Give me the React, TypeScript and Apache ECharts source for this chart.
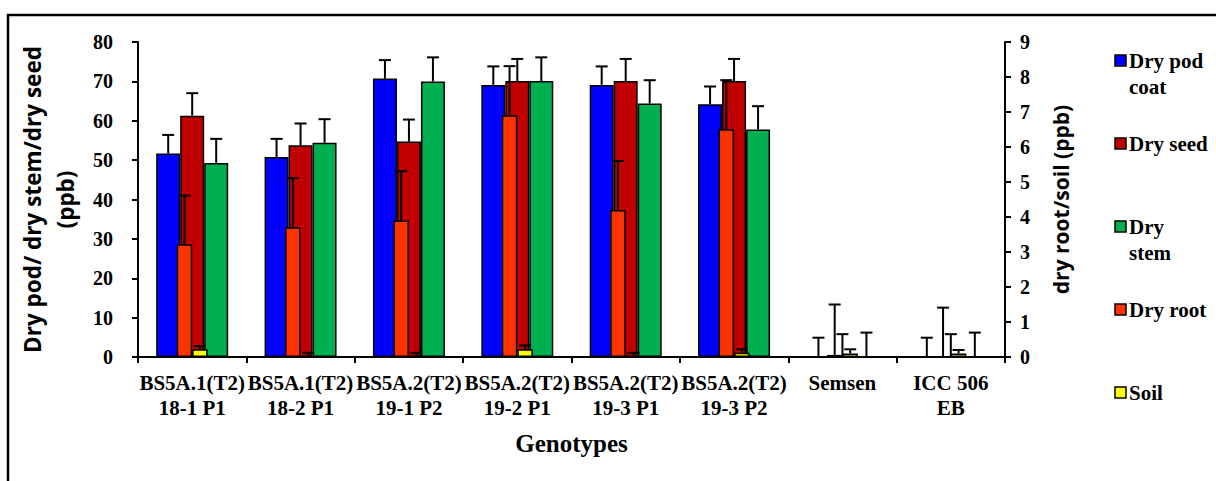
import React, { useEffect, useRef } from 'react';
import * as echarts from 'echarts';

const categories = [
  'BS5A.1(T2)\n18-1 P1',
  'BS5A.1(T2)\n18-2 P1',
  'BS5A.2(T2)\n19-1 P2',
  'BS5A.2(T2)\n19-2 P1',
  'BS5A.2(T2)\n19-3 P1',
  'BS5A.2(T2)\n19-3 P2',
  'Semsen',
  'ICC 506\nEB',
];

const seriesNames = ['Dry pod coat', 'Dry seed', 'Dry stem', 'Dry root', 'Soil'];
const legendLabels = ['Dry pod\ncoat', 'Dry seed', 'Dry\nstem', 'Dry root', 'Soil'];
const colors = ['#0000FF', '#C00000', '#00B050', '#FF3300', '#FFFF00'];

// left axis (ppb)
const podCoat = [51.7, 50.8, 70.7, 69.1, 69.1, 64.2, 0, 0];
const podCoatErr = [4.7, 4.6, 4.7, 4.7, 4.7, 4.5, 4.9, 4.9];
const seed = [61.3, 53.8, 54.7, 70.1, 70.1, 70.1, 0, 0];
const seedErr = [5.7, 5.5, 5.6, 5.6, 5.6, 5.6, 5.8, 5.8];
const stem = [49.3, 54.4, 70.0, 70.1, 64.4, 57.8, 0, 0];
const stemErr = [6.1, 6.0, 6.1, 6.0, 5.9, 5.9, 6.2, 6.2];
// right axis (ppb)
const root = [3.22, 3.71, 3.9, 6.91, 4.2, 6.51, 0.06, 0.02];
const rootErr = [1.39, 1.4, 1.41, 1.4, 1.4, 1.4, 1.44, 1.39];
const soil = [0.22, 0.02, 0.02, 0.22, 0.02, 0.12, 0.1, 0.1];
const soilErr = [0.09, 0.1, 0.1, 0.11, 0.1, 0.1, 0.12, 0.1];

const leftTicks = [0, 10, 20, 30, 40, 50, 60, 70, 80];
const rightTicks = [0, 1, 2, 3, 4, 5, 6, 7, 8, 9];

const SERIF = '"Liberation Serif", "Times New Roman", serif';
const SANS = '"Open Sans", "Noto Sans", sans-serif';

const BIG_W = 24;
const SMALL_W = 15.5;

function errSeries(vals: number[], errs: number[], offset: number, xAxisIndex: number, yAxisIndex: number, cap: number) {
  return {
    type: 'custom',
    xAxisIndex,
    yAxisIndex,
    z: 10,
    silent: true,
    data: vals.map((v, i) => [i, v, v + errs[i]]),
    renderItem: (params: any, api: any) => {
      const p0 = api.coord([api.value(0), api.value(1)]);
      const p1 = api.coord([api.value(0), api.value(2)]);
      const x = p0[0] + offset;
      const hw = cap / 2;
      return {
        type: 'group',
        children: [
          { type: 'line', shape: { x1: x, y1: p0[1], x2: x, y2: p1[1] }, style: { stroke: '#000', lineWidth: 2 } },
          { type: 'line', shape: { x1: x - hw, y1: p1[1], x2: x + hw, y2: p1[1] }, style: { stroke: '#000', lineWidth: 2 } },
        ],
      };
    },
  };
}

function barSeries(name: string, data: number[], color: string, xAxisIndex: number, yAxisIndex: number, width: number, z: number) {
  return {
    name,
    type: 'bar',
    xAxisIndex,
    yAxisIndex,
    data,
    barWidth: width,
    barGap: '0%',
    z,
    itemStyle: { color, borderColor: '#000', borderWidth: 1.5 },
  };
}

export default function App() {
  const ref = useRef<HTMLDivElement>(null);
  useEffect(() => {
    document.body.style.margin = '0';
    const chart = echarts.init(ref.current!, null, { renderer: 'svg' });

    const legendGraphics: any[] = [];
    legendLabels.forEach((lab, i) => {
      const cy = 61 + i * 83;
      legendGraphics.push({
        type: 'rect',
        shape: { x: 1115, y: cy - 6, width: 11, height: 11 },
        style: { fill: colors[i], stroke: '#000', lineWidth: 1.5 },
      });
      legendGraphics.push({
        type: 'text',
        x: 1129,
        y: cy - 13,
        style: {
          text: lab,
          font: `bold 21px ${SERIF}`,
          fill: '#000',
          lineHeight: 26,
          textVerticalAlign: 'top',
        },
      });
    });

    const axisText = { fontFamily: SERIF, fontWeight: 'bold', fontSize: 20, color: '#000' };

    chart.setOption({
      animation: false,
      backgroundColor: '#fff',
      grid: { left: 138, right: 211, top: 42, bottom: 124, containLabel: false },
      xAxis: [
        {
          type: 'category',
          data: categories,
          axisLine: { lineStyle: { color: '#000', width: 2 } },
          axisTick: { show: true, length: 6, lineStyle: { color: '#000', width: 2 } },
          axisLabel: { ...axisText, fontSize: 21, interval: 0, lineHeight: 25, margin: 13 },
          name: 'Genotypes',
          nameLocation: 'middle',
          nameGap: 74,
          nameTextStyle: { fontFamily: SERIF, fontWeight: 'bold', fontSize: 25, color: '#000' },
        },
        {
          type: 'category',
          data: categories,
          show: false,
        },
      ],
      yAxis: [
        {
          type: 'value',
          min: 0,
          max: 80,
          interval: 10,
          position: 'left',
          axisLine: { show: true, lineStyle: { color: '#000', width: 2 } },
          axisTick: { show: true, length: 6, lineStyle: { color: '#000', width: 2 } },
          splitLine: { show: false },
          axisLabel: { ...axisText, margin: 25, formatter: (v: number) => (leftTicks.includes(v) ? String(v) : '') },
          name: 'Dry pod/ dry stem/dry seed\n(ppb)',
          nameLocation: 'middle',
          nameRotate: 90,
          nameGap: 32,
          nameTextStyle: { fontFamily: SANS, fontWeight: 'bold', fontSize: 22.5, color: '#000', lineHeight: 33 },
        },
        {
          type: 'value',
          min: 0,
          max: 9,
          interval: 1,
          position: 'right',
          axisLine: { show: true, lineStyle: { color: '#000', width: 2 } },
          axisTick: { show: true, length: 6, lineStyle: { color: '#000', width: 2 } },
          splitLine: { show: false },
          axisLabel: { ...axisText, margin: 15, formatter: (v: number) => (rightTicks.includes(v) ? String(v) : '') },
          name: 'dry root/soil (ppb)',
          nameLocation: 'middle',
          nameRotate: 90,
          nameGap: 45,
          nameTextStyle: { fontFamily: SANS, fontWeight: 'bold', fontSize: 21, color: '#000' },
        },
      ],
      series: [
        barSeries(seriesNames[0], podCoat, colors[0], 0, 0, BIG_W, 2),
        barSeries(seriesNames[1], seed, colors[1], 0, 0, BIG_W, 2),
        barSeries(seriesNames[2], stem, colors[2], 0, 0, BIG_W, 2),
        barSeries(seriesNames[3], root, colors[3], 1, 1, SMALL_W, 3),
        barSeries(seriesNames[4], soil, colors[4], 1, 1, SMALL_W, 3),
        errSeries(podCoat, podCoatErr, -BIG_W, 0, 0, 12),
        errSeries(seed, seedErr, 0, 0, 0, 12),
        errSeries(stem, stemErr, BIG_W, 0, 0, 12),
        errSeries(root, rootErr, -SMALL_W / 2, 1, 1, 12),
        errSeries(soil, soilErr, SMALL_W / 2, 1, 1, 12),
      ],
      graphic: [
        {
          type: 'rect',
          shape: { x: 8, y: 15, width: 1230, height: 500 },
          style: { fill: 'none', stroke: '#000', lineWidth: 2.5 },
          silent: true,
          z: -1,
        },
        ...legendGraphics,
      ],
    });
    return () => chart.dispose();
  }, []);
  return <div ref={ref} style={{ width: 1216, height: 481 }} />;
}
